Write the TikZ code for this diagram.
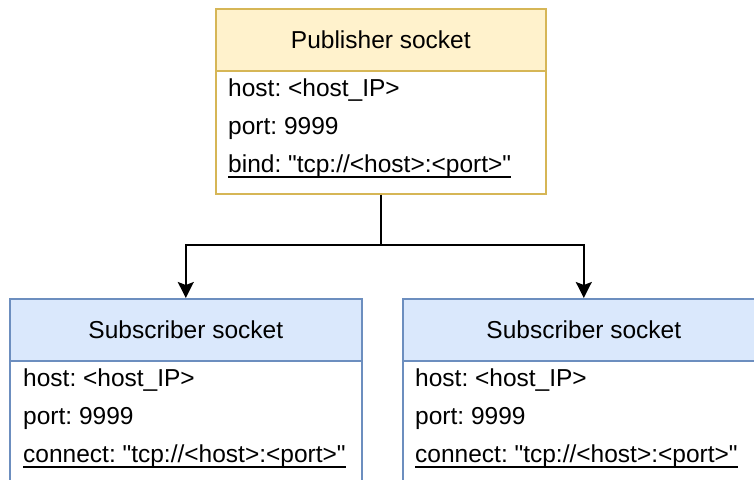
\documentclass[tikz,border=0pt]{standalone}
\usepackage{fontspec}
% no TeX ligature mapping, so " stays a straight double quote
\setmainfont{Liberation Sans}[Ligatures=TeXOff]
\usetikzlibrary{arrows.meta}
\frenchspacing

\definecolor{pubfill}{HTML}{FFF2CC}
\definecolor{publine}{HTML}{D6B656}
\definecolor{subfill}{HTML}{DAE8FC}
\definecolor{subline}{HTML}{6C8EBF}

\tikzset{
  txt/.style={font=\fontsize{24.5}{29}\selectfont, text=black},
  headbox/.style={txt, draw, line width=1.6pt, anchor=north west, inner sep=0pt,
                  minimum height=62pt},
  bodybox/.style={draw, line width=1.6pt, fill=white, anchor=north west, inner sep=0pt,
                  minimum height=123pt},
  pubhead/.style={headbox, fill=pubfill, draw=publine},
  subhead/.style={headbox, fill=subfill, draw=subline},
  field/.style={txt, anchor=base west, inner sep=0pt},
  uline/.style={line width=1.3pt, black},
  link/.style={line width=1.7pt, black},
  linkarrow/.style={link, -{Stealth[length=16pt, width=16pt, inset=3pt]}}
}

\begin{document}
\begin{tikzpicture}[x=1pt, y=-1pt]
\useasboundingbox (0,0) rectangle (754,479);
\clip (0,0) rectangle (754,479);

% publisher socket
\node[bodybox, draw=publine, minimum width=330pt] (pubbody) at (215,70) {};
\node[pubhead, minimum width=330pt] (pub) at (215,8) {Publisher socket};
\node[field] (pubhost) at (228,96) {host: <host\_IP>};
\node[field] (pubport) at (228,134) {port: 9999};
\node[field] (pubbind) at (228,172) {bind: "tcp://<host>:<port>"};
\draw[uline] ([yshift=-5pt]pubbind.base west) -- ([yshift=-5pt]pubbind.base east);

% left subscriber socket
\node[bodybox, draw=subline, minimum width=352pt] (subLbody) at (9,360) {};
\node[subhead, minimum width=352pt] (subL) at (9,298) {Subscriber socket};
\node[field] (subLhost) at (23,386) {host: <host\_IP>};
\node[field] (subLport) at (23,424) {port: 9999};
\node[field] (subLconn) at (23,462) {connect: "tcp://<host>:<port>"};
\draw[uline] ([yshift=-5pt]subLconn.base west) -- ([yshift=-5pt]subLconn.base east);

% right subscriber socket
\node[bodybox, draw=subline, minimum width=362pt] (subRbody) at (402,360) {};
\node[subhead, minimum width=362pt] (subR) at (402,298) {Subscriber socket};
\node[field] (subRhost) at (415,386) {host: <host\_IP>};
\node[field] (subRport) at (415,424) {port: 9999};
\node[field] (subRconn) at (415,462) {connect: "tcp://<host>:<port>"};
\draw[uline] ([yshift=-5pt]subRconn.base west) -- ([yshift=-5pt]subRconn.base east);

% fan-out connectors
\coordinate (split) at (pubbody.south |- 0,245);
\draw[link] (pubbody.south) -- (split);
\draw[linkarrow] (split) -| (subL.north);
\draw[linkarrow] (split) -| (subR.north);
\end{tikzpicture}
\end{document}
